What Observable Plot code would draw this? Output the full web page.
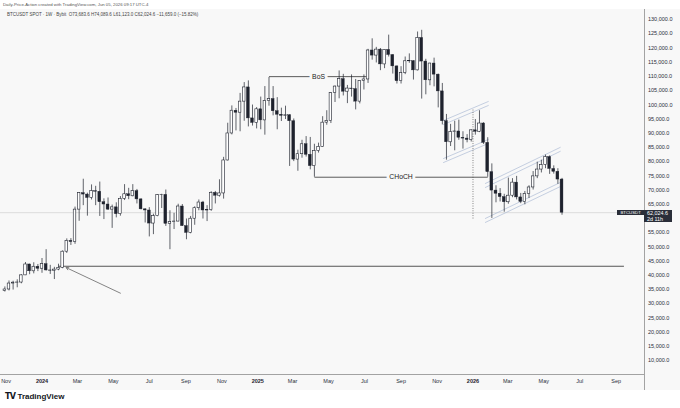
<!DOCTYPE html>
<html><head><meta charset="utf-8">
<script src="https://cdn.jsdelivr.net/npm/d3@7"></script>
<script src="https://cdn.jsdelivr.net/npm/@observablehq/plot@0.6"></script>
<style>
html,body{margin:0;padding:0;background:#fff;}
body{width:680px;height:408px;position:relative;overflow:hidden;font-family:"Liberation Sans",Arial,sans-serif;}
#top{position:absolute;left:3px;top:2px;font-size:4.3px;line-height:5px;color:#555;white-space:nowrap;}
#panel{position:absolute;left:0;top:9px;width:680px;height:381px;background:#f8f8f8;}
#chart{position:absolute;left:0;top:9px;}
#legend{position:absolute;left:7px;top:12px;font-size:4.5px;line-height:5px;color:#444;white-space:nowrap;}
#logo{position:absolute;left:5px;top:392px;font-size:8px;line-height:10px;font-weight:bold;color:#131722;white-space:nowrap;}
#logo span{letter-spacing:-0.6px;margin-right:2px;font-family:"DejaVu Sans",sans-serif;font-weight:900;}
.tag{position:absolute;background:#2a2e39;color:#fff;white-space:nowrap;}
#symtag{font-size:4.3px;line-height:5.6px;text-align:center;}
#pricetag{font-size:5.4px;line-height:6.2px;padding-left:3px;box-sizing:border-box;}
</style></head><body>
<div id="top">Daily-Price-Action created with TradingView.com, Jun 05, 2026 09:17 UTC-4</div>
<div id="panel"></div>
<div id="chart"></div>
<div id="legend">BTCUSDT SPOT · 1W · Bybit &nbsp;O73,683.6 H74,089.6 L61,123.0 C62,024.6 −11,659.0 (−15.82%)</div>
<div id="symtag" class="tag"></div>
<div id="pricetag" class="tag"></div>
<div id="logo"><span>TV</span>TradingView</div>
<script>
// ---- data (prices in thousands USD, weekly candles starting Monday 2023-10-30) ----
const firstWeek = "2023-10-30";
const opens = [34.5,35.0,37.1,37.4,37.45,39.97,43.8,41.4,43.0,42.3,43.9,41.7,41.6,42.0,42.6,48.3,52.1,51.7,63.1,68.9,68.4,67.2,69.6,69.4,65.7,64.9,63.1,63.9,61.5,66.9,68.5,67.8,69.6,66.7,63.2,62.8,58.2,60.8,68.2,68.3,58.1,58.7,58.9,64.2,57.3,54.9,59.9,63.6,65.6,62.8,62.9,69.0,68.0,68.8,80.4,89.9,97.9,97.2,101.1,106.1,95.2,93.6,98.4,94.5,101.3,102.0,97.7,96.5,96.1,96.3,94.2,80.7,82.6,86.1,82.4,78.4,83.7,85.2,93.7,94.3,104.1,106.4,109.0,104.6,105.7,105.5,101.1,108.4,108.9,119.1,117.3,119.4,114.2,119.3,117.5,113.5,108.3,111.2,115.3,115.35,112.1,123.5,115.2,108.6,114.5,110.6,104.7,94.2,86.8,90.4,90.6,88.4,88.1,87.6,91.0,90.5,93.4,86.6,76.3,69.8,68.7,67.5,65.7,68.0,72.6,67.4,65.8,68.6,70.9,74.8,77.2,78.8,81.6,77.4,76.4,73.6836];
const highs = [35.9,38.0,37.9,38.4,40.2,44.5,43.9,44.4,43.8,45.9,49.0,43.5,42.8,43.9,48.6,52.8,52.9,64.0,69.1,73.8,68.9,71.8,71.3,72.8,66.9,67.2,64.7,65.5,67.7,71.9,70.6,71.9,70.2,66.9,63.4,63.8,61.5,68.4,68.5,70.0,62.7,61.8,65.0,64.9,59.8,60.7,64.1,66.5,66.0,64.5,69.4,69.5,73.6,81.5,93.5,99.6,98.7,104.0,107.8,108.4,99.9,99.0,102.7,106.4,109.6,106.4,102.5,98.8,99.5,96.5,95.0,84.0,87.5,88.8,88.5,86.1,86.5,95.8,97.9,104.3,106.6,111.9,110.7,106.8,110.5,108.9,108.5,110.5,119.5,123.2,120.2,119.8,119.4,124.5,117.6,113.6,113.4,116.8,117.9,115.5,125.6,126.2,116.0,114.6,116.4,110.8,107.5,96.6,93.1,94.2,94.6,90.5,89.5,91.2,94.8,97.9,93.7,88.4,79.2,71.5,70.5,68.5,74.2,74.0,74.8,68.8,69.5,71.5,76.5,79.8,80.5,82.3,82.0,78.5,77.5,74.0896];
const lows = [34.1,34.5,34.8,35.6,37.0,39.9,40.2,40.5,41.3,40.7,41.5,40.3,38.5,41.6,42.3,47.7,50.5,50.9,59.0,64.5,60.8,66.5,64.5,60.7,59.6,62.8,56.5,60.2,60.8,66.3,66.6,67.6,65.1,63.0,58.4,53.5,54.3,60.6,63.5,57.2,49.0,56.1,58.8,57.2,52.5,54.6,57.6,62.7,59.8,58.9,62.5,65.1,67.5,66.8,80.2,89.4,90.8,90.5,94.2,92.2,92.5,91.5,91.2,89.3,99.5,96.1,91.2,94.1,94.8,78.3,80.0,76.6,81.2,81.6,77.1,74.5,83.0,85.1,92.8,93.4,100.8,102.1,103.1,100.4,102.7,98.2,100.3,105.2,107.5,115.7,114.7,112.0,112.7,116.8,110.8,107.3,107.3,110.6,114.6,108.7,111.9,102.0,103.5,106.7,106.3,98.9,92.9,80.5,85.3,83.8,87.5,84.4,86.6,86.9,89.3,90.2,86.0,74.5,60.0,65.5,65.8,62.2,65.0,67.3,66.5,65.2,64.8,67.0,70.0,74.0,76.0,77.5,75.5,75.6,72.0,61.123];
const closes = [35.0,37.1,37.4,37.45,39.97,43.8,41.4,43.0,42.3,43.9,41.7,41.6,42.0,42.6,48.3,52.1,51.7,63.1,68.9,68.4,67.2,69.6,69.4,65.7,64.9,63.1,63.9,61.5,66.9,68.5,67.8,69.6,66.7,63.2,62.8,58.2,60.8,68.2,68.3,58.1,58.7,58.9,64.2,57.3,54.9,59.9,63.6,65.6,62.8,62.9,69.0,68.0,68.8,80.4,89.9,97.9,97.2,101.1,106.1,95.2,93.6,98.4,94.5,101.3,102.0,97.7,96.5,96.1,96.3,94.2,80.7,82.6,86.1,82.4,78.4,83.7,85.2,93.7,94.3,104.1,106.4,109.0,104.6,105.7,105.5,101.1,108.4,108.9,119.1,117.3,119.4,114.2,119.3,117.5,113.5,108.3,111.2,115.3,115.35,112.1,123.5,115.2,108.6,114.5,110.6,104.7,94.2,86.8,90.4,90.6,88.4,88.1,87.6,91.0,90.5,93.4,86.6,76.3,69.8,68.7,67.5,65.7,68.0,72.6,67.4,65.8,68.6,70.9,74.8,77.2,78.8,81.6,77.4,76.4,73.6836,62.0246];

const symbol = "BTCUSDT";
const lastPrice = 62024.6;
const countdown = "2d 11h";

// tick labels (60,000 is hidden behind the last-price tag in the reference)
const yTicks = [10000,15000,20000,25000,30000,35000,40000,45000,50000,55000,65000,70000,75000,80000,85000,90000,95000,100000,105000,110000,115000,120000,125000,130000];
const monthTicks = ["2023-11-01","2024-03-01","2024-05-01","2024-07-01","2024-09-01","2024-11-01","2025-03-01","2025-05-01","2025-07-01","2025-09-01","2025-11-01","2026-03-01","2026-05-01","2026-07-01","2026-09-01"];
const yearTicks = ["2024-01-01","2025-01-01","2026-01-01"];

// annotations: horizontal levels
const levelNames = ["support", "BoS", "CHoCH"];
const levelPrices = [43200, 109900, 74500];
const levelFrom = ["2024-01-29", "2025-01-20", "2025-04-07"];
const levelTo = ["2026-09-14", "2025-07-07", "2026-01-26"];
const levelLabels = ["", "BoS", "CHoCH"];

// arrow [date, price]
const arrowStart = ["2024-05-13", 33700];
const arrowEnd = ["2024-02-11", 42700];

// dotted separator
const splitDate = "2026-01-01";
const splitRange = [60000, 98700];

// channels: dates and line prices (k)
const channel1Dates = ["2025-11-12", "2026-01-27"];
const channel1Lines = [[94.46, 101.15], [93.05, 99.74], [81.09, 87.78], [79.68, 86.37]];
const channel2Dates = ["2026-01-22", "2026-05-29"];
const channel2Lines = [[72.3, 85.0], [70.9, 83.6], [60.0, 72.65], [58.6, 71.2]];

// ---- build tables ----
const start = new Date(firstWeek);
const candles = opens.map((o, i) => ({
  date: d3.utcDay.offset(start, 7 * i),
  open: o * 1000, high: highs[i] * 1000, low: lows[i] * 1000, close: closes[i] * 1000
}));
const ups = candles.filter(d => d.close >= d.open);
const downs = candles.filter(d => d.close < d.open);

const levels = levelNames.map((n, i) => ({name: n, price: levelPrices[i], x1: new Date(levelFrom[i]), x2: new Date(levelTo[i]), label: levelLabels[i]}));
const labelRows = levels.filter(d => d.label).map(d => ({...d, mid: new Date((+d.x1 + +d.x2) / 2)}));

const channelRows = [];
[[channel1Dates, channel1Lines, "a"], [channel2Dates, channel2Lines, "b"]].forEach(([dates, lines, c]) => {
  lines.forEach((pr, j) => pr.forEach((p, k) => channelRows.push({id: c + j, date: new Date(dates[k]), price: p * 1000})));
});

const arrows = [{x1: new Date(arrowStart[0]), y1: arrowStart[1], x2: new Date(arrowEnd[0]), y2: arrowEnd[1]}];
const splits = [{x: new Date(splitDate), y1: splitRange[0], y2: splitRange[1]}];

const xDomain = [new Date("2023-10-22T14:24Z"), new Date("2026-10-18T21:36Z")];
const yDomain = [5088, 133167];
const ink = "#1e222d";
const fam = '"Liberation Sans", Arial, sans-serif';

const plot = Plot.plot({
  width: 680, height: 380,
  marginTop: 1, marginBottom: 15, marginLeft: 0, marginRight: 36,
  style: {background: "transparent", fontFamily: fam, overflow: "visible"},
  x: {type: "utc", domain: xDomain},
  y: {domain: yDomain},
  marks: [
    Plot.ruleY([lastPrice], {stroke: "#d6d6d6", strokeWidth: 0.8}),
    Plot.line(channelRows, {x: "date", y: "price", z: "id", stroke: "#aebbd6", strokeWidth: 0.7}),
    Plot.link(levels, {x1: "x1", x2: "x2", y1: "price", y2: "price", stroke: d => d.name === "support" ? "#555" : "#333", strokeWidth: d => d.name === "support" ? 1.1 : 0.8}),
    Plot.link(splits, {x1: "x", x2: "x", y1: "y1", y2: "y2", stroke: "#444", strokeWidth: 0.8, strokeDasharray: "0.8,1.6"}),
    Plot.arrow(arrows, {x1: "x1", y1: "y1", x2: "x2", y2: "y2", stroke: "#666", strokeWidth: 0.8, headLength: 5}),
    Plot.ruleX(candles, {x: "date", y1: "low", y2: "high", stroke: ink, strokeWidth: 0.7}),
    Plot.rect(downs, {x1: d => d3.utcHour.offset(d.date, -58), x2: d => d3.utcHour.offset(d.date, 58), y1: "open", y2: "close", fill: ink, stroke: ink, strokeWidth: 0.4}),
    Plot.rect(ups, {x1: d => d3.utcHour.offset(d.date, -52), x2: d => d3.utcHour.offset(d.date, 52), y1: "open", y2: "close", fill: "#ffffff", stroke: ink, strokeWidth: 0.6}),
    Plot.text(labelRows, {x: "mid", y: "price", text: "label", fill: "#222", stroke: "#f8f8f8", strokeWidth: 6, paintOrder: "stroke", fontSize: 6.8}),
    Plot.ruleY([yDomain[0]], {stroke: "#8d8d8d", strokeWidth: 0.8}),
    Plot.ruleX([xDomain[1]], {stroke: "#8d8d8d", strokeWidth: 0.8, insetBottom: -16, insetTop: -1}),
    Plot.axisY({anchor: "right", ticks: yTicks, tickFormat: d3.format(",.1f"), tickSize: 0, tickPadding: 3.5, fontSize: 5.5, fill: "#2a2e39", label: null}),
    Plot.axisX({anchor: "bottom", ticks: monthTicks.map(d => new Date(d)), tickFormat: d3.utcFormat("%b"), tickSize: 0, tickPadding: 4.5, fontSize: 5.5, fill: "#2a2e39", label: null}),
    Plot.axisX({anchor: "bottom", ticks: yearTicks.map(d => new Date(d)), tickFormat: d3.utcFormat("%Y"), tickSize: 0, tickPadding: 4.5, fontSize: 5.5, fontWeight: "bold", fill: "#1e222d", label: null})
  ]
});
document.getElementById("chart").appendChild(plot);

// last-price tags on the right scale, placed with the plot's own scales
const chartTop = 9;
const yy = chartTop + plot.scale("y").apply(lastPrice);
const xr = plot.scale("x").apply(xDomain[1]);
const sym = document.getElementById("symtag");
sym.textContent = symbol;
Object.assign(sym.style, {left: (xr - 26.7) + "px", top: (yy - 2.4) + "px", width: "26.7px", height: "5.6px"});
const pt = document.getElementById("pricetag");
pt.innerHTML = d3.format(",.1f")(lastPrice) + "<br>" + countdown;
Object.assign(pt.style, {left: xr + "px", top: (yy - 2.6) + "px", width: "28px", height: "12.6px"});
</script>
</body></html>
